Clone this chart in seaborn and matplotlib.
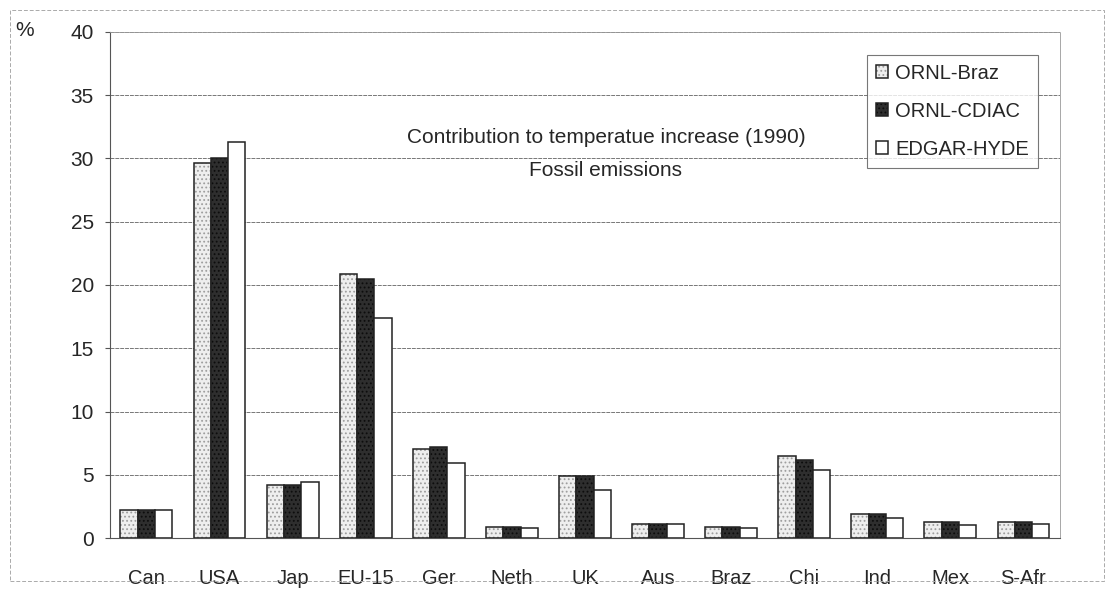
import matplotlib
matplotlib.use("Agg")
import matplotlib.pyplot as plt
import seaborn as sns
import pandas as pd
from matplotlib.patches import Rectangle

categories = ["Can", "USA", "Jap", "EU-15", "Ger", "Neth", "UK", "Aus", "Braz", "Chi", "Ind", "Mex", "S-Afr"]
ornl_braz = [2.2, 29.6, 4.2, 20.9, 7.0, 0.9, 4.9, 1.1, 0.9, 6.5, 1.9, 1.3, 1.3]
ornl_cdiac = [2.2, 30.0, 4.2, 20.5, 7.2, 0.9, 4.9, 1.1, 0.9, 6.2, 1.9, 1.3, 1.3]
edgar_hyde = [2.2, 31.3, 4.4, 17.4, 5.9, 0.8, 3.8, 1.1, 0.8, 5.4, 1.6, 1.0, 1.1]
series_names = ["ORNL-Braz", "ORNL-CDIAC", "EDGAR-HYDE"]
y_ticks = [0, 5, 10, 15, 20, 25, 30, 35, 40]

df = pd.DataFrame({
    "cat": categories * 3,
    "val": ornl_braz + ornl_cdiac + edgar_hyde,
    "series": [series_names[0]] * 13 + [series_names[1]] * 13 + [series_names[2]] * 13,
})

sns.set_style("white")
plt.rcParams["font.family"] = ["Liberation Sans", "DejaVu Sans"]
plt.rcParams["hatch.linewidth"] = 0.8

fig = plt.figure(figsize=(11.1, 5.9), dpi=100)
ax = fig.add_axes([0.099, 0.088, 0.856, 0.858])

colors = {"ORNL-Braz": "#eeeeee", "ORNL-CDIAC": "#2e2e2e", "EDGAR-HYDE": "#ffffff"}
hatches = {"ORNL-Braz": "....", "ORNL-CDIAC": "....", "EDGAR-HYDE": ""}
hatch_cols = {"ORNL-Braz": (0.62, 0.62, 0.62, 1), "ORNL-CDIAC": (0.05, 0.05, 0.05, 1), "EDGAR-HYDE": (0, 0, 0, 1)}

sns.barplot(data=df, x="cat", y="val", hue="series", palette=colors, ax=ax,
            width=0.71, gap=0, edgecolor="#222222", linewidth=1.1, legend=True, zorder=3)


def style_patch(p, name):
    p.set_hatch(hatches[name])
    if hasattr(p, "set_hatchcolor"):
        p.set_hatchcolor(hatch_cols[name])
    else:
        p._hatch_color = hatch_cols[name]


for cont, name in zip(ax.containers, series_names):
    for p in cont:
        style_patch(p, name)
        p.set_zorder(3)

ax.set_ylim(0, 40)
ax.set_xlim(-0.5, 12.5)
ax.set_yticks(y_ticks)
ax.set_yticklabels([str(t) for t in y_ticks], fontsize=15)
ax.tick_params(axis="y", length=3.5, width=0.8, pad=8, left=True, color="#555555")
ax.set_xticks(range(len(categories)))
ax.set_xticklabels(categories)
ax.tick_params(axis="x", labelsize=14.5, length=0, pad=22)
ax.set_xticks([i + 0.5 for i in range(-1, 13)], minor=True)
ax.tick_params(axis="x", which="minor", length=5, width=0.8, color="#555555", direction="out")
ax.set_xlabel("")
ax.set_ylabel("")

ax.grid(axis="y", color="#777777", linestyle=(0, (4, 1)), linewidth=0.7, zorder=0)
ax.set_axisbelow(True)
for side in ["left", "bottom"]:
    ax.spines[side].set_color("#555555")
    ax.spines[side].set_linewidth(0.8)
for side in ["top", "right"]:
    ax.spines[side].set_color("#999999")
    ax.spines[side].set_linewidth(0.6)
    ax.spines[side].set_linestyle((0, (3, 1)))

ax.text(0.522, 0.792, "Contribution to temperatue increase (1990)", transform=ax.transAxes,
        ha="center", va="center", fontsize=15)
ax.text(0.522, 0.727, "Fossil emissions", transform=ax.transAxes,
        ha="center", va="center", fontsize=15)

handles, labels = ax.get_legend_handles_labels()
for h, name in zip(handles, series_names):
    style_patch(h, name)
leg = ax.legend(handles, labels, loc="upper right", bbox_to_anchor=(0.977, 0.955),
                fontsize=14.5, frameon=True, fancybox=False, edgecolor="#555555",
                handlelength=0.6, handleheight=0.6, handletextpad=0.35,
                labelspacing=0.95, borderpad=0.45, borderaxespad=0)
leg.get_frame().set_linewidth(0.8)

fig.text(0.014, 0.948, "%", fontsize=15, ha="left", va="center")

fig.patches.append(Rectangle((0.009, 0.015), 0.986, 0.968, transform=fig.transFigure,
                             fill=False, edgecolor="#aaaaaa", linewidth=0.7,
                             linestyle=(0, (4, 2))))

fig.savefig("out.png", dpi=100)
